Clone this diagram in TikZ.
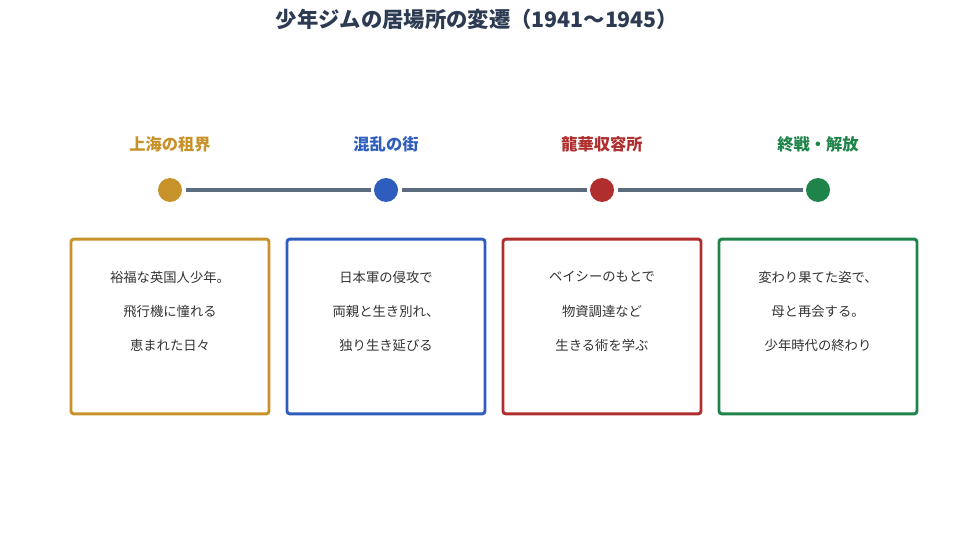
\documentclass[tikz,border=0pt]{standalone}
\usepackage{fontspec}
\setmainfont{Noto Sans CJK JP}
\definecolor{cgold}{HTML}{C8922A}
\definecolor{cblue}{HTML}{2F5DBE}
\definecolor{cred}{HTML}{B02E2E}
\definecolor{cgreen}{HTML}{1E8449}
\definecolor{cline}{HTML}{5D6B7E}
\definecolor{ctitle}{HTML}{2C3A52}
\definecolor{ctext}{HTML}{333333}
\begin{document}
\begin{tikzpicture}[x=0.75pt,y=-0.75pt,
  phase/.style={font=\fontsize{12.2pt}{14pt}\selectfont\bfseries, anchor=center},
  dot/.style={circle, minimum size=18pt, inner sep=0pt},
  card/.style={draw, line width=2.2pt, rounded corners=2pt, minimum width=148.5pt, minimum height=131pt, inner sep=0pt, fill=white},
  body/.style={font=\fontsize{10pt}{12pt}\selectfont, text=ctext, anchor=center},
  link/.style={line width=3pt, draw=cline, shorten <=3pt, shorten >=2pt}]
\useasboundingbox[fill=white] (0,0) rectangle (960,535);
\node[font=\fontsize{16pt}{19pt}\selectfont\bfseries, text=ctitle] (title) at (477,19) {少年ジムの居場所の変遷（1941〜1945）};
% phase labels
\node[phase, text=cgold] (l1) at (170,144) {上海の租界};
\node[phase, text=cblue] (l2) at (386,144) {混乱の街};
\node[phase, text=cred] (l3) at (602,144) {龍華収容所};
\node[phase, text=cgreen] (l4) at (818,144) {終戦・解放};
% dots
\node[dot, fill=cgold] (d1) at (170,190) {};
\node[dot, fill=cblue] (d2) at (386,190) {};
\node[dot, fill=cred] (d3) at (602,190) {};
\node[dot, fill=cgreen] (d4) at (818,190) {};
\draw[link] (d1) -- (d2);
\draw[link] (d2) -- (d3);
\draw[link] (d3) -- (d4);
% cards
\node[card, draw=cgold] (c1) at (170,326.5) {};
\node[card, draw=cblue] (c2) at (386,326.5) {};
\node[card, draw=cred] (c3) at (602,326.5) {};
\node[card, draw=cgreen] (c4) at (818,326.5) {};
% texts
\node[body] (t11) at (170,277) {裕福な英国人少年。};
\node[body] (t12) at (170,311) {飛行機に憧れる};
\node[body] (t13) at (170,345) {恵まれた日々};
\node[body] (t21) at (386,277) {日本軍の侵攻で};
\node[body] (t22) at (386,311) {両親と生き別れ、};
\node[body] (t23) at (386,345) {独り生き延びる};
\node[body] (t31) at (602,277) {ベイシーのもとで};
\node[body] (t32) at (602,311) {物資調達など};
\node[body] (t33) at (602,345) {生きる術を学ぶ};
\node[body] (t41) at (818,277) {変わり果てた姿で、};
\node[body] (t42) at (818,311) {母と再会する。};
\node[body] (t43) at (818,345) {少年時代の終わり};
\end{tikzpicture}
\end{document}
